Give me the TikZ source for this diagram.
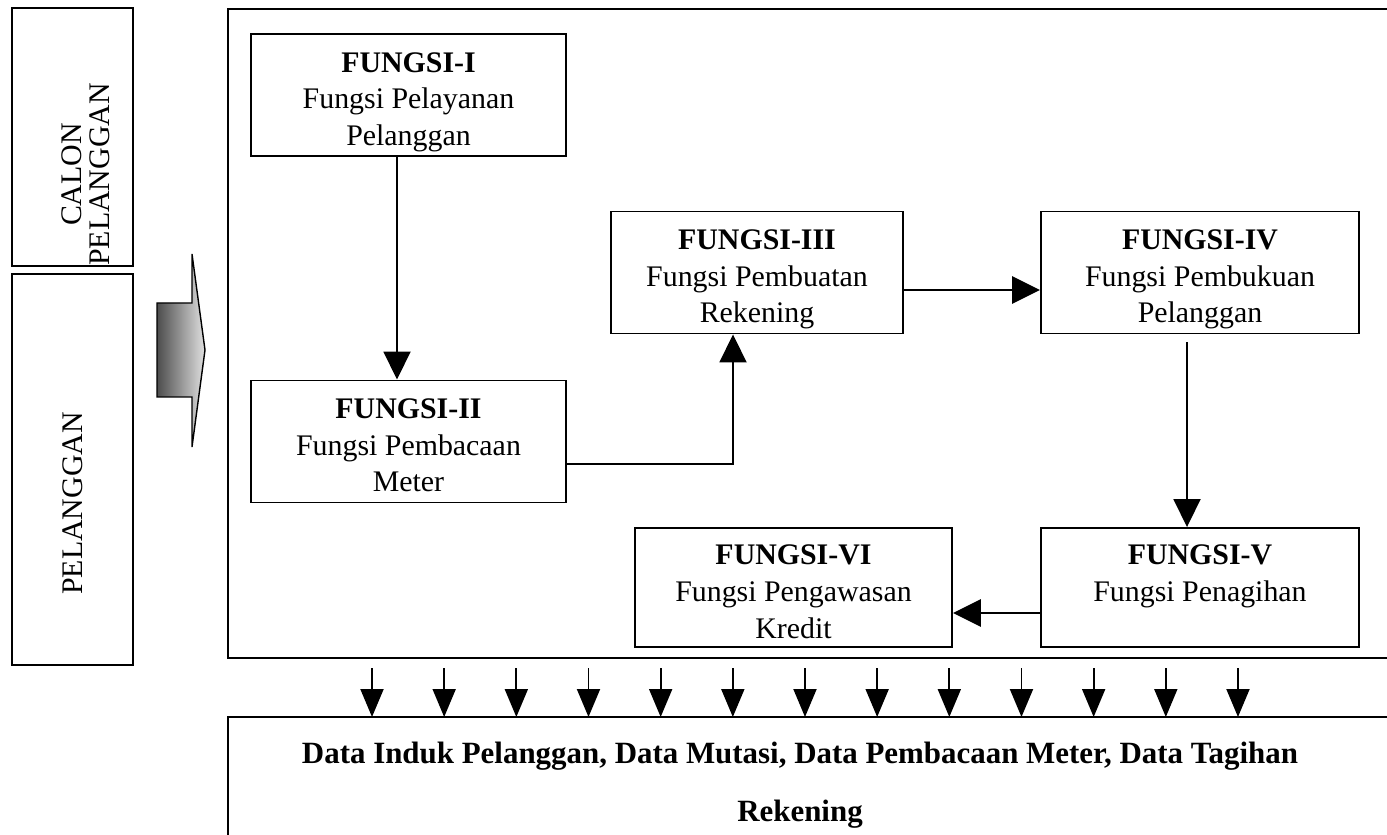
\documentclass[tikz,border=0pt]{standalone}
\usepackage{fontspec}
\setmainfont{Liberation Serif}
\usetikzlibrary{arrows.meta}

\tikzset{
	fungsi/.style={draw=black,line width=1.1pt,minimum width=6.3cm,minimum height=2.44cm,
		align=center,inner sep=0pt,text height=2.18cm,text depth=0.16cm,
		font=\fontsize{17}{20.8}\selectfont},
	pihak/.style={draw=black,line width=1.1pt,minimum height=2.42cm,rotate=90,
		align=center,inner sep=0pt,font=\fontsize{17}{20.8}\selectfont},
	panah/.style={black,line width=1.1pt,-{Triangle[width=0.54cm,length=0.56cm]}},
	panahbawah/.style={black,line width=1.1pt,-{Triangle[width=0.46cm,length=0.56cm]}}
}

\begin{document}
\begin{tikzpicture}
\useasboundingbox (0,0) rectangle (27.74,16.68);
\clip (0,0) rectangle (27.74,16.68);
%Gitter
%\draw[step=1cm,very thin,black!20] (0,0) grid(27.74,16.68);
\node[pihak,minimum width=5.16cm,text height=1.5cm,text depth=0cm,
	font=\fontsize{17}{16.5}\selectfont] (calon) at (1.45,13.94)
	{CALON\hspace*{1.5cm}\\PELANGGAN\hspace*{1.5cm}};
\node[pihak,minimum width=7.82cm] (plg) at (1.45,7.29) {PELANGGAN\hspace*{1.36cm}};
\shadedraw[left color=black!70,right color=black!12,line width=0.8pt]
	(3.14,10.62) -- (3.84,10.62) -- (3.84,11.6) -- (4.10,9.68) -- (3.84,7.74)
	-- (3.84,8.74) -- (3.14,8.74) -- cycle;
\draw[line width=1.1pt] (28,16.5) -- (4.56,16.5) -- (4.56,3.52) -- (28,3.52);
\node[fungsi] (f1) at (8.17,14.78) {\textbf{FUNGSI-I}\\Fungsi Pelayanan\\Pelanggan};
\node[fungsi] (f2) at (8.17,7.85) {\textbf{FUNGSI-II}\\Fungsi Pembacaan\\Meter};
\node[fungsi,minimum width=5.84cm] (f3) at (15.14,11.23) {\textbf{FUNGSI-III}\\Fungsi Pembuatan\\Rekening};
\node[fungsi,minimum width=6.36cm] (f4) at (24.0,11.23) {\textbf{FUNGSI-IV}\\Fungsi Pembukuan\\Pelanggan};
\node[fungsi,minimum width=6.36cm,minimum height=2.38cm] (f5) at (24.0,4.93) {\textbf{FUNGSI-V}\\Fungsi Penagihan\\~};
\node[fungsi,minimum width=6.34cm,minimum height=2.38cm] (f6) at (15.87,4.93) {\textbf{FUNGSI-VI}\\Fungsi Pengawasan\\Kredit};
\draw[panah] ([xshift=-0.23cm]f1.south) -- ([xshift=-0.23cm]f2.north);
\draw[panah] ([yshift=-0.45cm]f2.east) -| ([xshift=-0.48cm]f3.south);
\draw[panah,line width=1.6pt] ([yshift=-0.35cm]f3.east) -- ([yshift=-0.35cm]f4.west);
\draw[panah] ([xshift=-0.26cm,yshift=-0.16cm]f4.south) -- ([xshift=-0.26cm]f5.north);
\draw[panah,line width=1.6pt] ([yshift=-0.51cm]f5.west) -- ([yshift=-0.51cm]f6.east);
\coordinate (dtop) at (4.56,2.34);
\draw[line width=1.1pt] (28,2.34) -- (dtop) -- (4.56,-1);
\node[align=center,font=\bfseries\fontsize{17.6}{33}\selectfont] (data) at (16,0.98)
	{Data Induk Pelanggan, Data Mutasi, Data Pembacaan Meter, Data Tagihan\\Rekening};
\foreach \i in {0,...,12}{
	\coordinate (d\i) at (7.44+1.4433*\i,3.32);
	\draw[panahbawah] (d\i) -- (d\i |- dtop);
}
\end{tikzpicture}
\end{document}
